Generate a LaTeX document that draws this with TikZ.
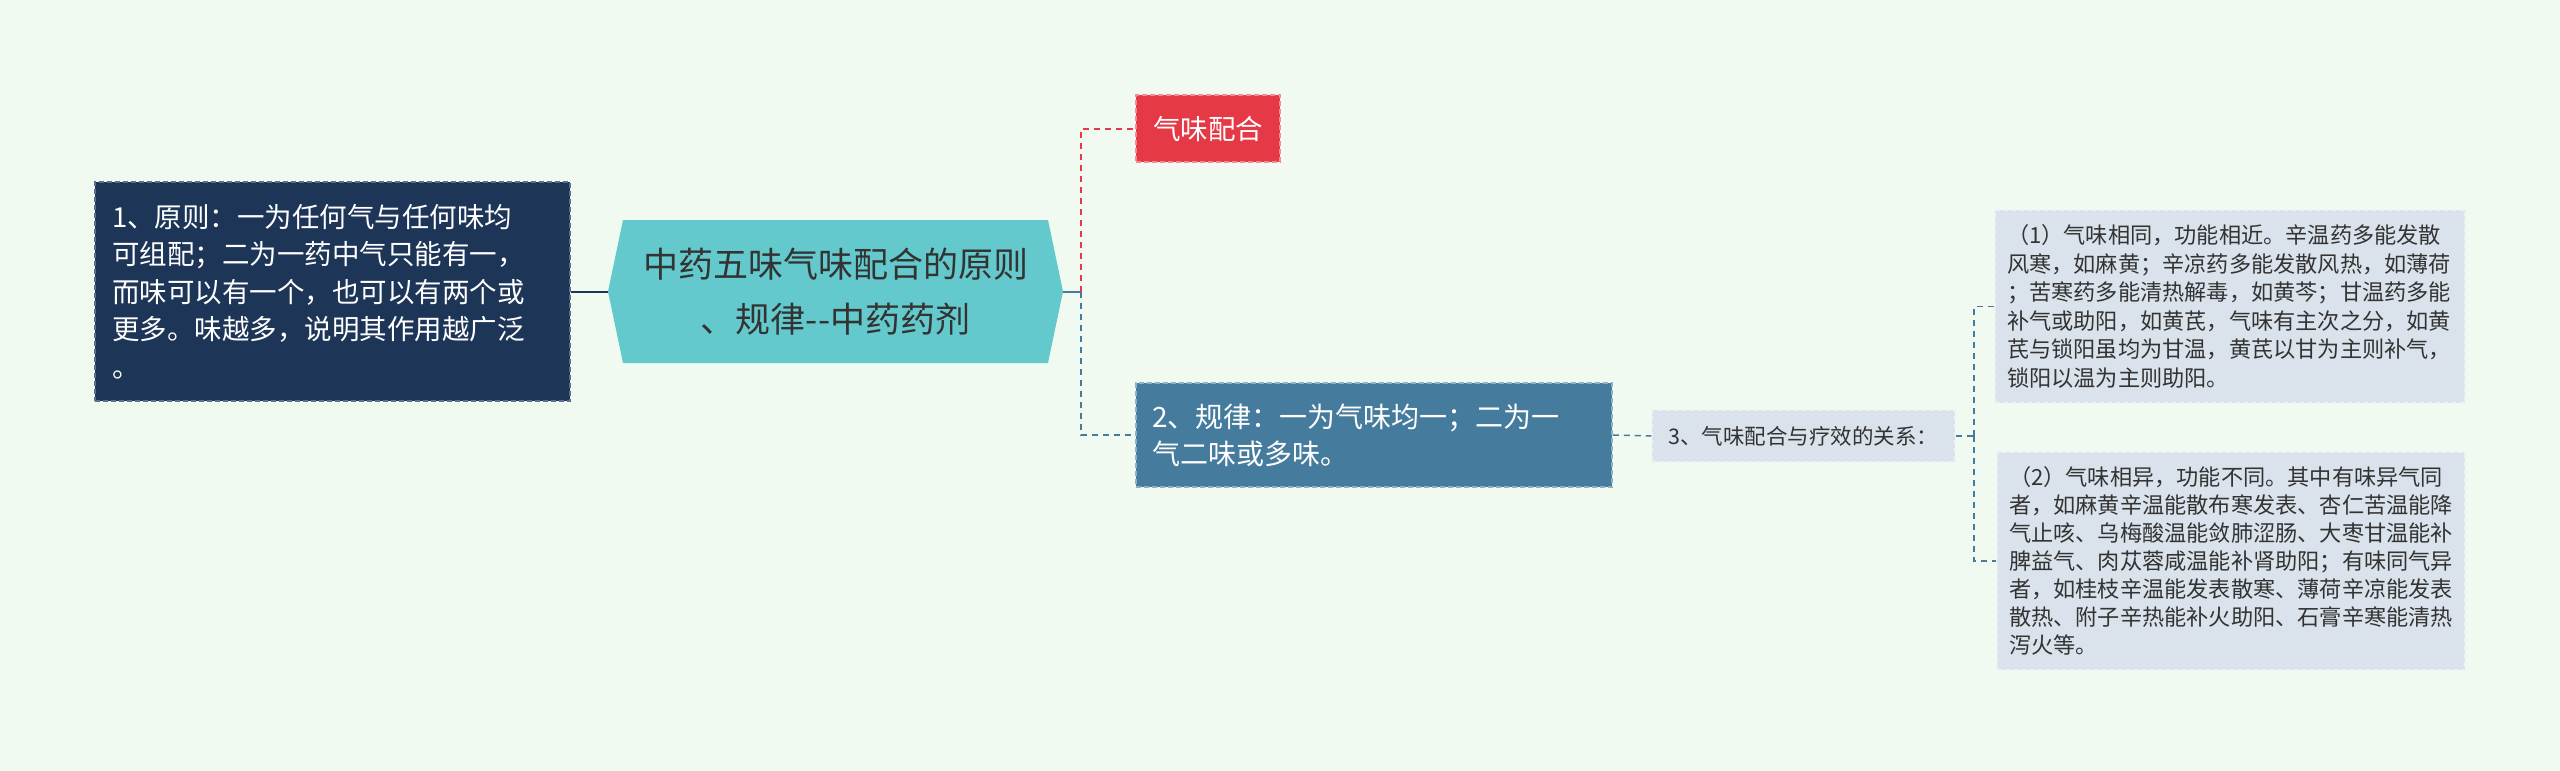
\documentclass[tikz,border=0pt]{standalone}
\usepackage{fontspec}
\setmainfont{Noto Sans CJK SC}
\definecolor{bg}{RGB}{240,250,240}
\definecolor{navy}{HTML}{1D3557}
\definecolor{navyb}{HTML}{5C6F8E}
\definecolor{hexc}{HTML}{63C9CC}
\definecolor{redc}{HTML}{E63946}
\definecolor{redb}{HTML}{F08A93}
\definecolor{bluec}{HTML}{457B9D}
\definecolor{blueb}{HTML}{8FB0C6}
\definecolor{lightc}{HTML}{DAE3EB}
\definecolor{lightb}{HTML}{EEF2F5}
\definecolor{txt}{HTML}{333333}
\begin{document}
\begin{tikzpicture}[x=1pt,y=-1pt,
  box/.style={draw, line width=1.5pt, dash pattern=on 5pt off 3pt, inner sep=0pt, anchor=center},
  conn/.style={line width=2pt, dash pattern=on 6pt off 5pt},
]
\useasboundingbox[fill=bg] (0,0) rectangle (2560,771);

% left box
\node[box, fill=navy, draw=navyb, minimum width=475pt, minimum height=219pt,
  text width=441pt, align=left, text=white, font=\fontsize{27.5}{37.5}\selectfont]
  (p1) at (332.5,291.5) {1、原则：一为任何气与任何味均\\
可组配；二为一药中气只能有一，\\
而味可以有一个，也可以有两个或\\
更多。味越多，说明其作用越广泛\\
。};

% central hexagon
\fill[hexc] (608,291.5) -- (623,220) -- (1048,220) -- (1063,291.5) -- (1048,363) -- (623,363) -- cycle;
\node[minimum width=455pt, minimum height=143pt, inner sep=0pt, align=center, text=txt,
  font=\fontsize{35}{55}\selectfont] (hex) at (835.5,291.5)
  {中药五味气味配合的原则\\、规律-\kern0pt-中药药剂};

% red box
\node[box, fill=redc, draw=redb, minimum width=144pt, minimum height=67pt, text=white,
  font=\fontsize{27.5}{33}\selectfont] (qw) at (1208,128.5) {气味配合};

% blue box
\node[box, fill=bluec, draw=blueb, minimum width=476pt, minimum height=104pt,
  text width=444pt, align=left, text=white, font=\fontsize{28}{37}\selectfont]
  (gl) at (1374,435) {2、规律：一为气味均一；二为一\\气二味或多味。};

% node 3
\node[box, fill=lightc, draw=lightb, minimum width=303pt, minimum height=52pt, text=txt,
  font=\fontsize{21.5}{26}\selectfont] (r3) at (1803.5,436) {3、气味配合与疗效的关系：};

% right boxes
\node[box, fill=lightc, draw=lightb, minimum width=470pt, minimum height=193pt,
  text width=446pt, align=left, text=txt, font=\fontsize{22.2}{28.5}\selectfont]
  (s1) at (2230,306.5) {（1）气味相同，功能相近。辛温药多能发散\\
风寒，如麻黄；辛凉药多能发散风热，如薄荷\\
；苦寒药多能清热解毒，如黄芩；甘温药多能\\
补气或助阳，如黄芪，气味有主次之分，如黄\\
芪与锁阳虽均为甘温，黄芪以甘为主则补气，\\
锁阳以温为主则助阳。};

\node[box, fill=lightc, draw=lightb, minimum width=468pt, minimum height=218pt,
  text width=444pt, align=left, text=txt, font=\fontsize{22.2}{28}\selectfont]
  (s2) at (2231,561) {（2）气味相异，功能不同。其中有味异气同\\
者，如麻黄辛温能散布寒发表、杏仁苦温能降\\
气止咳、乌梅酸温能敛肺涩肠、大枣甘温能补\\
脾益气、肉苁蓉咸温能补肾助阳；有味同气异\\
者，如桂枝辛温能发表散寒、薄荷辛凉能发表\\
散热、附子辛热能补火助阳、石膏辛寒能清热\\
泻火等。};

% connectors
\coordinate (b1) at (1081,291.5);
\coordinate (b2) at (1974,436);
\draw[navy, line width=2pt] (p1.east) -- (hex.west);
\draw[bluec, line width=2pt] (hex.east) -- (b1);
\draw[conn, redc] (b1) |- (qw.west);
\draw[conn, bluec] (b1) |- (gl.west);
\draw[conn, bluec, line width=1.5pt] (gl.east) -- (r3.west);
\draw[conn, bluec, line width=1.2pt] (r3.east) -- (b2);
\draw[conn, bluec, line width=1.2pt] (b2) |- (s1.west);
\draw[conn, bluec, line width=1.2pt] (b2) |- (s2.west);
\end{tikzpicture}
\end{document}
